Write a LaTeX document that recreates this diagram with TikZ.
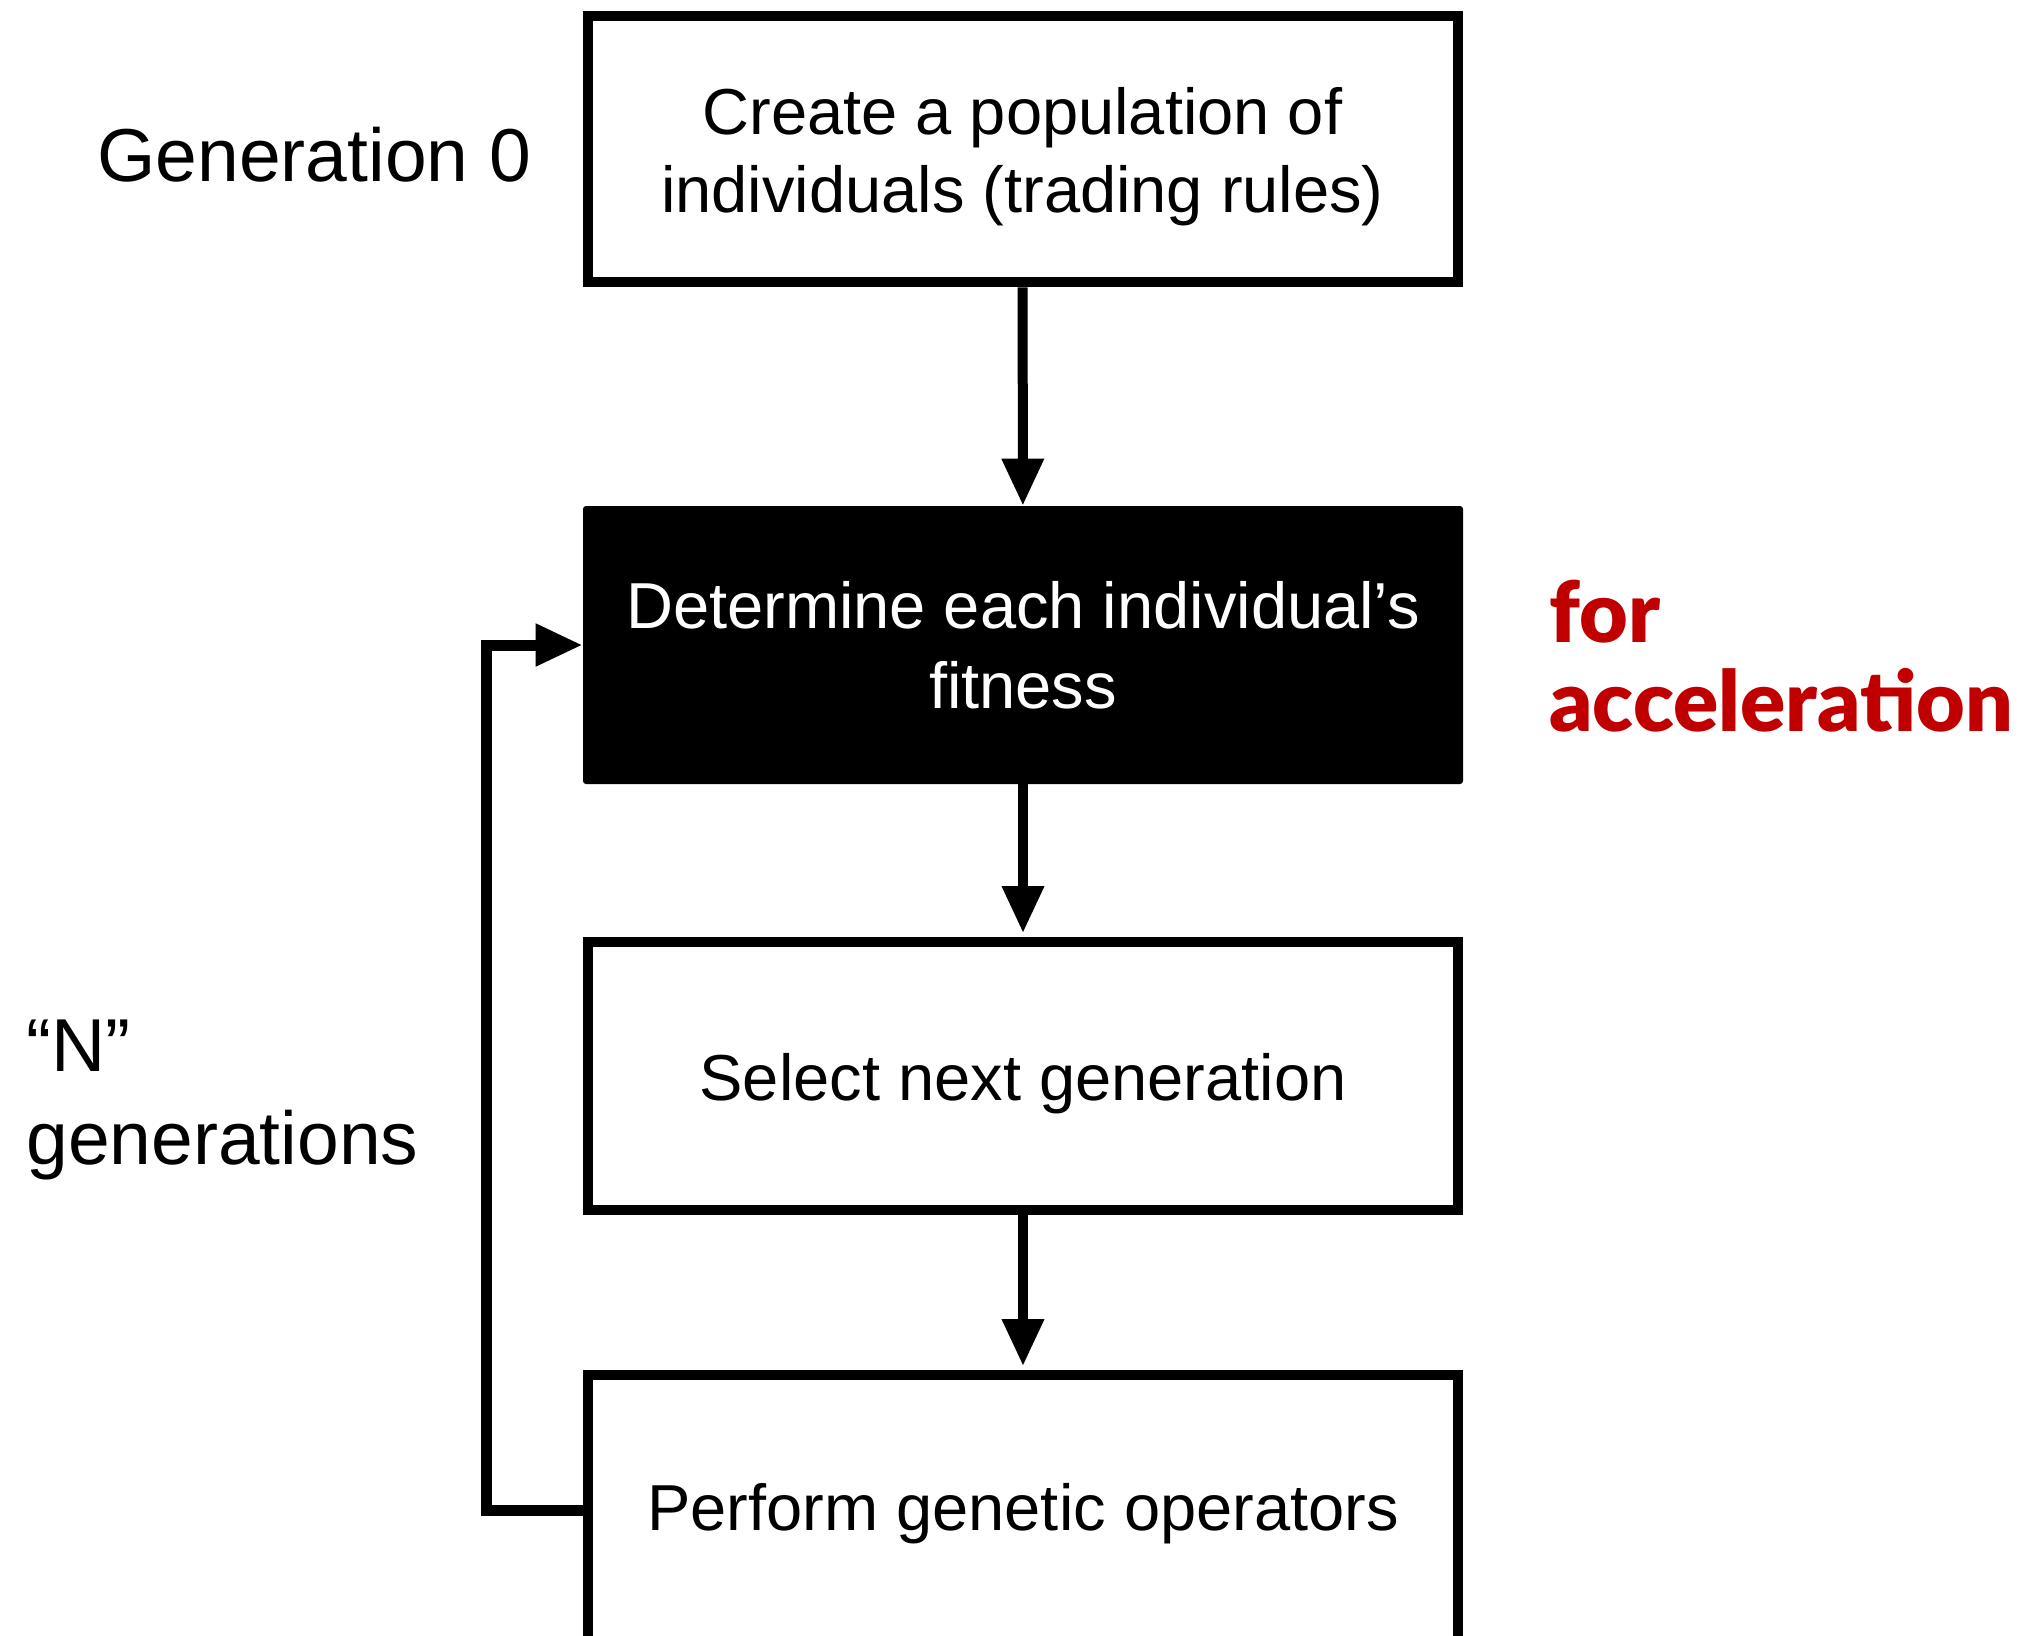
\documentclass[tikz,border=0pt]{standalone}
\usepackage{fontspec}
\setmainfont{Liberation Sans}
\newfontfamily\accfont{Lato Black}
\usetikzlibrary{arrows.meta}
\definecolor{accred}{RGB}{192,0,0}
\begin{document}
\begin{tikzpicture}[x=0.5pt,y=-0.5pt,
  stepbox/.style={draw=black, line width=5pt, minimum width=435pt, minimum height=133.25pt,
    inner sep=0pt, align=center, font=\fontsize{32.5}{39}\selectfont},
  darkbox/.style={fill=black, draw=none, rounded corners=1.5pt, minimum width=440pt,
    minimum height=139pt, inner sep=0pt, align=center, text=white,
    font=\fontsize{32.5}{40}\selectfont},
  sidelabel/.style={inner sep=0pt, align=left, font=\fontsize{37.5}{46.5}\selectfont},
  acclabel/.style={inner sep=0pt, align=left, text=accred,
    font=\accfont\fontsize{42}{44.5}\selectfont},
  arr/.style={line width=5pt, -{Triangle[length=23.5pt,width=20pt]}},
  loopline/.style={line width=5.5pt, line join=miter, -{Triangle[length=23.5pt,width=20pt]}}
]
\useasboundingbox (0,0) rectangle (2039,1635);
\clip (0,0) rectangle (2039,1635);
\fill[white] (0,0) rectangle (2039,1635);

\node[stepbox] (create) at (1022.5,149) {\rule{0pt}{31.7pt}Create a population of\\individuals (trading rules)};
\node[darkbox] (fitness) at (1023,645) {Determine each individual’s\\fitness};
\node[stepbox, minimum height=134pt] (select) at (1023,1076) {\rule{0pt}{31.7pt}Select next generation};
\node[stepbox, minimum height=135pt] (perform) at (1023,1510) {\rule{0pt}{27.7pt}Perform genetic operators};

\node[sidelabel, anchor=west] (gen0) at (97,155) {Generation 0};
\node[sidelabel, anchor=north west] (ngen) at (26,1019) {“N”\\generations};
\node[acclabel, anchor=north west] (acc) at (1549,580) {for\\acceleration};

\draw[arr] (create) -- (fitness);
\draw[arr, shorten >=2pt] (fitness) -- (select);
\draw[arr, shorten >=2pt] (select) -- (perform);
\draw[loopline] (perform.west) -- ++(-97,0) |- (fitness.west);
\end{tikzpicture}
\end{document}
